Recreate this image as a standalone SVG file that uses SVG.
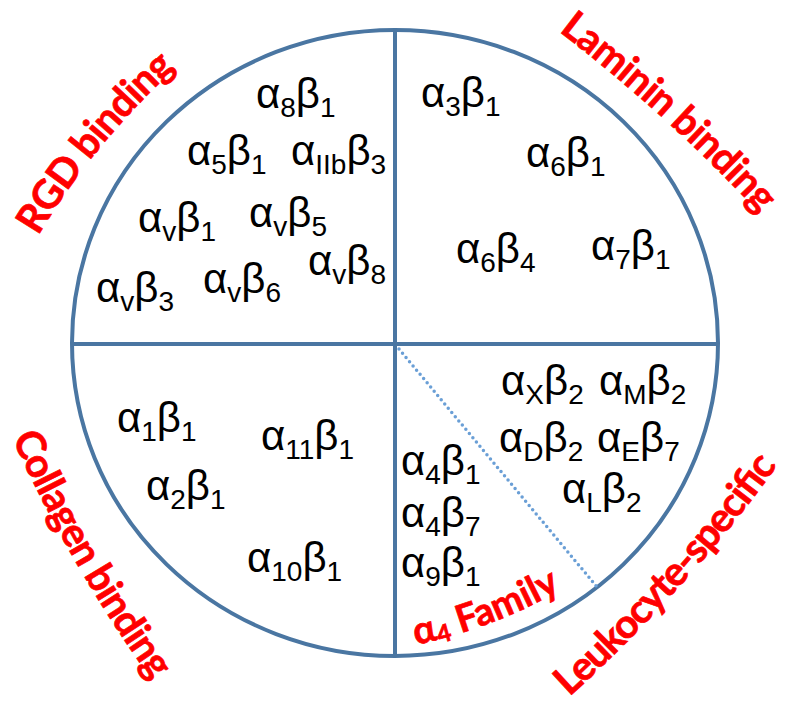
<svg xmlns="http://www.w3.org/2000/svg" width="785" height="701" viewBox="0 0 785 701">
<defs>
<style>
.g{font-family:"Liberation Sans",Arial,sans-serif;font-size:42px;fill:#000}
.s{font-size:28px}
.lab{font-family:Lato,"Liberation Sans",sans-serif;font-weight:700;font-size:40px;fill:#ff0000;stroke:#ff0000;stroke-width:0.7}
.frame{fill:none;stroke:#4a76a2;stroke-width:4}
</style>
<path id="pRGD" d="M38,236 Q95,141 177,67"/>
<path id="pLam" d="M558.6,31.3 Q668.5,115.2 760,214"/>
<path id="pCol" d="M12,438 Q70.6,567.1 153.5,682.2"/>
<path id="pLeu" d="M569.2,697.1 Q689,588.7 780,462"/>
<path id="pA4" d="M416,645 Q495,628 566,587"/>
</defs>
<rect width="785" height="701" fill="#fff"/>
<g id="connectors">
<ellipse class="frame" cx="395" cy="343" rx="323" ry="313"/>
<line class="frame" x1="395" y1="30" x2="395" y2="656"/>
<line class="frame" x1="72" y1="344" x2="718" y2="344"/>
<line x1="399" y1="349" x2="597" y2="587" stroke="#6a9fd6" stroke-width="3.5" stroke-linecap="round" stroke-dasharray="0 5.5"/>
</g>
<g id="rgd">
<text class="lab"><textPath href="#pRGD" textLength="218" lengthAdjust="spacing">RGD binding</textPath></text>
<text class="g" x="256" y="108">α<tspan class="s" dy="9">8</tspan><tspan dy="-9">β</tspan><tspan class="s" dy="9">1</tspan></text>
<text class="g" x="187" y="165">α<tspan class="s" dy="9">5</tspan><tspan dy="-9">β</tspan><tspan class="s" dy="9">1</tspan></text>
<text class="g" x="291" y="165">α<tspan class="s" dy="9">IIb</tspan><tspan dy="-9">β</tspan><tspan class="s" dy="9">3</tspan></text>
<text class="g" x="138" y="232">α<tspan class="s" dy="9">v</tspan><tspan dy="-9">β</tspan><tspan class="s" dy="9">1</tspan></text>
<text class="g" x="249" y="227">α<tspan class="s" dy="9">v</tspan><tspan dy="-9">β</tspan><tspan class="s" dy="9">5</tspan></text>
<text class="g" x="308" y="275">α<tspan class="s" dy="9">v</tspan><tspan dy="-9">β</tspan><tspan class="s" dy="9">8</tspan></text>
<text class="g" x="96" y="302">α<tspan class="s" dy="9">v</tspan><tspan dy="-9">β</tspan><tspan class="s" dy="9">3</tspan></text>
<text class="g" x="203" y="293">α<tspan class="s" dy="9">v</tspan><tspan dy="-9">β</tspan><tspan class="s" dy="9">6</tspan></text>
</g>
<g id="laminin">
<text class="lab"><textPath href="#pLam" textLength="272" lengthAdjust="spacing">Laminin binding</textPath></text>
<text class="g" x="421" y="107">α<tspan class="s" dy="9">3</tspan><tspan dy="-9">β</tspan><tspan class="s" dy="9">1</tspan></text>
<text class="g" x="526" y="167">α<tspan class="s" dy="9">6</tspan><tspan dy="-9">β</tspan><tspan class="s" dy="9">1</tspan></text>
<text class="g" x="456" y="263">α<tspan class="s" dy="9">6</tspan><tspan dy="-9">β</tspan><tspan class="s" dy="9">4</tspan></text>
<text class="g" x="591" y="260">α<tspan class="s" dy="9">7</tspan><tspan dy="-9">β</tspan><tspan class="s" dy="9">1</tspan></text>
</g>
<g id="collagen">
<text class="lab"><textPath href="#pCol" textLength="281" lengthAdjust="spacing">Collagen binding</textPath></text>
<text class="g" x="117" y="432">α<tspan class="s" dy="9">1</tspan><tspan dy="-9">β</tspan><tspan class="s" dy="9">1</tspan></text>
<text class="g" x="146" y="500">α<tspan class="s" dy="9">2</tspan><tspan dy="-9">β</tspan><tspan class="s" dy="9">1</tspan></text>
<text class="g" x="261" y="450">α<tspan class="s" dy="9">11</tspan><tspan dy="-9">β</tspan><tspan class="s" dy="9">1</tspan></text>
<text class="g" x="247" y="572">α<tspan class="s" dy="9">10</tspan><tspan dy="-9">β</tspan><tspan class="s" dy="9">1</tspan></text>
</g>
<g id="leukocyte">
<text class="lab"><textPath href="#pLeu" textLength="312" lengthAdjust="spacing">Leukocyte-specific</textPath></text>
<text class="g" x="501" y="395">α<tspan class="s" dy="9">X</tspan><tspan dy="-9">β</tspan><tspan class="s" dy="9">2</tspan></text>
<text class="g" x="599" y="395">α<tspan class="s" dy="9">M</tspan><tspan dy="-9">β</tspan><tspan class="s" dy="9">2</tspan></text>
<text class="g" x="499" y="452">α<tspan class="s" dy="9">D</tspan><tspan dy="-9">β</tspan><tspan class="s" dy="9">2</tspan></text>
<text class="g" x="597" y="452">α<tspan class="s" dy="9">E</tspan><tspan dy="-9">β</tspan><tspan class="s" dy="9">7</tspan></text>
<text class="g" x="562" y="503">α<tspan class="s" dy="9">L</tspan><tspan dy="-9">β</tspan><tspan class="s" dy="9">2</tspan></text>
</g>
<g id="alpha4">
<text class="lab" style="font-size:38px"><textPath href="#pA4" textLength="156" lengthAdjust="spacing">α<tspan style="font-size:24px" dy="4">4</tspan><tspan dy="-4"> Family</tspan></textPath></text>
<text class="g" x="401" y="475">α<tspan class="s" dy="9">4</tspan><tspan dy="-9">β</tspan><tspan class="s" dy="9">1</tspan></text>
<text class="g" x="401" y="527">α<tspan class="s" dy="9">4</tspan><tspan dy="-9">β</tspan><tspan class="s" dy="9">7</tspan></text>
<text class="g" x="401" y="577">α<tspan class="s" dy="9">9</tspan><tspan dy="-9">β</tspan><tspan class="s" dy="9">1</tspan></text>
</g>
</svg>
